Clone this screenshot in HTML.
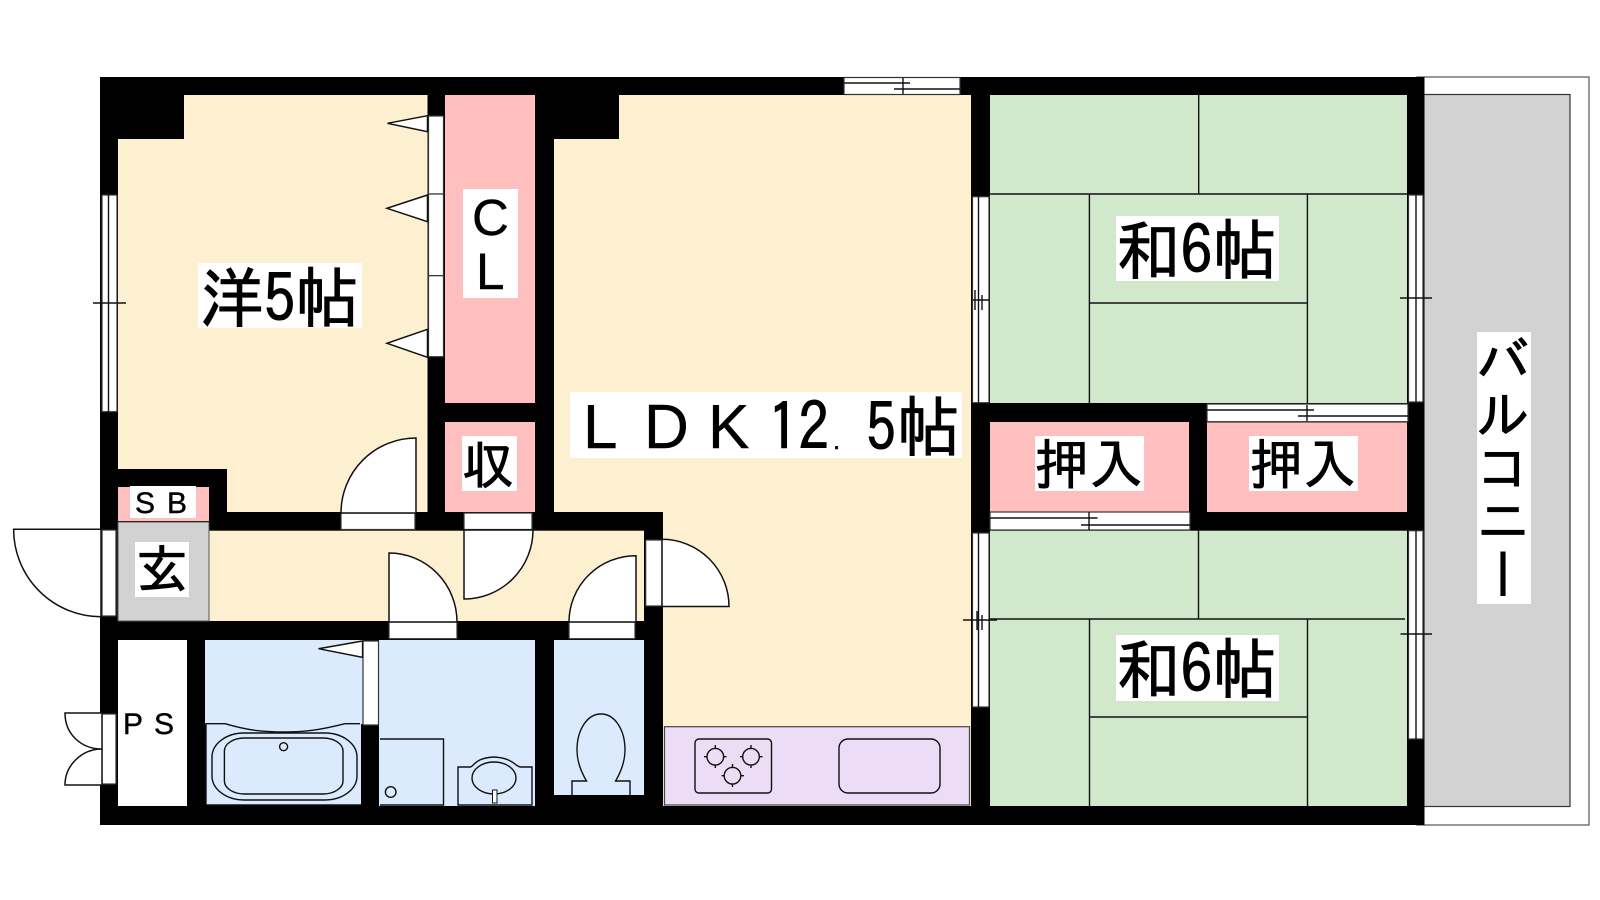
<!DOCTYPE html>
<html lang="ja"><head><meta charset="utf-8"><title>間取り図</title>
<style>
html,body{margin:0;padding:0;background:#fff}
svg{display:block}
.j{font-family:"IPAGothic","Noto Sans CJK JP",sans-serif;fill:#000;stroke:#000;stroke-width:.9}
.l{font-family:"Liberation Sans",sans-serif;fill:#000;stroke:#000;stroke-width:.4}
.ln{fill:none;stroke:#111;stroke-width:1.4}
.d{fill:#fff;stroke:#111;stroke-width:1.5}
.w{fill:#fff;stroke:#333;stroke-width:1.2}
</style></head><body>
<svg width="1600" height="900" viewBox="0 0 1600 900" xmlns="http://www.w3.org/2000/svg">
<rect width="1600" height="900" fill="#fff"/>
<!-- balcony -->
<rect x="1417" y="77" width="172" height="748" fill="#fff" stroke="#555" stroke-width="1.2"/>
<rect x="1420" y="94.500" width="150" height="712" fill="#d2d2d2" stroke="#333" stroke-width="1.2"/>
<!-- outer black -->
<rect x="100" y="77" width="1324.500" height="748" fill="#000"/>
<!-- rooms -->
<path d="M118 139H184V95H427.500V512H227V469H118Z" fill="#fdf0d0"/>
<rect x="445" y="95" width="90" height="308" fill="#ffbfbf"/>
<rect x="445" y="422" width="90" height="90" fill="#ffbfbf"/>
<rect x="118" y="487" width="91" height="34" fill="#ffbfbf"/>
<rect x="118" y="522" width="91" height="99" fill="#d2d2d2" stroke="#555" stroke-width="1"/>
<rect x="209.500" y="530.700" width="434.500" height="90.300" fill="#fdf0d0"/>
<path d="M554 139H619V95H971V806H663V512H554Z" fill="#fdf0d0"/>
<rect x="118" y="640" width="69" height="166" fill="#fff"/>
<rect x="205" y="640" width="158" height="84" fill="#dbebfd"/>
<rect x="206" y="724" width="155" height="81" fill="#dbebfd"/>
<rect x="379" y="640" width="156" height="166" fill="#dbebfd"/>
<rect x="554" y="640" width="90" height="155" fill="#dbebfd"/>
<rect x="990" y="95" width="417" height="308" fill="#d2e8cc"/>
<rect x="990" y="530.700" width="417" height="275.300" fill="#d2e8cc"/>
<rect x="990" y="422" width="199" height="89.500" fill="#ffbfbf"/>
<rect x="1207" y="422.500" width="200" height="89.500" fill="#ffbfbf"/>
<!-- kitchen -->
<rect x="664.500" y="726.700" width="305" height="78.300" fill="#ecdcf5" stroke="#444" stroke-width="1.2"/>
<rect x="695" y="739" width="76.500" height="54" rx="4" fill="none" stroke="#111" stroke-width="1.4"/>
<circle cx="715.300" cy="756.700" r="8.300" class="ln"/><path d="M715.300 745v23.500M704 756.700h22.500" class="ln" stroke-dasharray="3 17"/>
<circle cx="751" cy="756.700" r="8.300" class="ln"/><path d="M751 745v23.500M740 756.700h22.500" class="ln" stroke-dasharray="3 17"/>
<circle cx="732.500" cy="775.700" r="8.300" class="ln"/><path d="M732.500 764v23.500M721.500 775.700h22.500" class="ln" stroke-dasharray="3 17"/>
<rect x="839" y="739" width="101" height="54" rx="9" class="ln"/>
<!-- tatami lines -->
<path d="M1198.700 95V194M990 194H1407M1089.400 194V403M1307.400 194V403M1089.400 303H1307.400" class="ln"/>
<path d="M1198.500 530.700V619M990 619H1405M1089.500 619V806M1307.500 619V806M1089.500 717H1307.500" class="ln"/>
<!-- interior sliding door (CL) -->
<rect x="428.500" y="116" width="15" height="78" class="w"/><rect x="428.500" y="194" width="15" height="81.700" class="w"/><rect x="428.500" y="275.700" width="15" height="81" class="w"/>
<path d="M427.500 115.700L387.500 123.300L427.500 131.700Z" class="d"/>
<path d="M427.500 195L387 208.300L427.500 221.700Z" class="d"/>
<path d="M427.500 329.300L387 343.300L427.500 357.300Z" class="d"/>
<!-- windows -->
<rect x="102" y="195" width="15" height="216.700" class="w"/><path d="M108.500 195V411.700M93 303H126" class="ln"/>
<rect x="844" y="77.500" width="116" height="17" class="w"/><path d="M844 83H910M894 89H960M903 78V94" class="ln"/>
<rect x="972.500" y="196.700" width="16.500" height="206" class="w"/><path d="M978.500 196.700V403M972.500 300H989M975 290V310M982 295V310" class="ln"/>
<rect x="1408.500" y="195" width="14.500" height="207" class="w"/><path d="M1416 195V402M1400 298H1432" class="ln"/>
<rect x="1207" y="404" width="201" height="17.700" class="w"/><path d="M1207 410H1314M1298 416H1408M1307 405V421" class="ln"/>
<rect x="990" y="512" width="200" height="18" class="w"/><path d="M990 518H1097.500M1081 525H1190M1089 512V530" class="ln"/>
<rect x="972.500" y="533" width="16.500" height="174" class="w"/><path d="M978.500 533V707M963 620H997M977 611V630M982 615V630" class="ln"/>
<rect x="1408.500" y="530.700" width="14.500" height="208.300" class="w"/><path d="M1416 530.700V739M1400.500 634H1432" class="ln"/>
<!-- door openings & leaves -->
<rect x="341" y="513" width="74" height="16.500" class="w"/>
<path d="M416 438V513H341A75 75 0 0 1 416 438Z" class="d"/>
<rect x="464" y="513" width="68" height="16.500" class="w"/>
<path d="M464 530V599A69 69 0 0 0 533 530Z" class="d"/>
<rect x="102" y="530" width="14" height="86" class="w"/>
<path d="M101 529.300H13.600A87.500 87.500 0 0 0 101 616.700Z" class="d"/>
<rect x="102" y="714" width="14" height="70" class="w"/>
<path d="M102 713H65C65 735 82 749 102 749C82 749 65 765 65 785H102Z" class="d"/>
<rect x="389" y="622" width="68" height="16.700" class="w"/>
<path d="M389 622V553A68 69 0 0 1 457 622Z" class="d"/>
<rect x="569" y="622" width="66" height="16.700" class="w"/>
<path d="M636 622V555.700A67 66.300 0 0 0 569 622Z" class="d"/>
<rect x="645.700" y="540" width="16.300" height="66" class="w"/>
<path d="M662 606.500V539.300A67 67.200 0 0 1 729 606.500Z" class="d"/>
<!-- bath sliding door -->
<rect x="363" y="641" width="15.500" height="84" class="w"/>
<path d="M362.600 641L318.500 648.700L362.600 657.300Z" class="d"/>
<!-- bathtub -->
<path d="M206 805V723.700H225C250 731 265 732 285 732C305 732 320 730 345 723.700H360" class="ln"/>
<path d="M206 805H361" class="ln"/>
<rect x="212" y="733" width="145" height="67" rx="32" ry="24" class="ln"/>
<rect x="224.400" y="738" width="118.600" height="56" rx="20" ry="13" class="ln"/>
<ellipse cx="283.600" cy="746.700" rx="4" ry="4" class="ln"/>
<!-- washer -->
<path d="M380 739H443.500V805H380" class="ln"/>
<circle cx="390.700" cy="792" r="5.300" class="ln"/>
<!-- basin -->
<path d="M458 805V767H470C474 767 474 758 494 757C514 758 515 767 521 767H532V805Z" class="ln"/>
<ellipse cx="494" cy="778" rx="22" ry="16" class="ln"/>
<rect x="492.500" y="790" width="4.500" height="13" fill="#fff" stroke="#111" stroke-width="1"/>
<!-- toilet -->
<path d="M572 795V781H586.500C580 770 577 760 577 750C577 730 587 714 601 714C615 714 625 730 625 750C625 760 622 770 615.600 781H630V795" class="ln"/>
<!-- labels -->
<rect x="198" y="263" width="164" height="65" fill="#fff"/>
<text class="j" x="200" y="322" font-size="66" textLength="159" lengthAdjust="spacingAndGlyphs">洋5帖</text>
<rect x="463" y="189" width="55" height="109" fill="#fff"/>
<text class="l" x="472" y="235" font-size="51">C</text>
<text class="l" x="476" y="289" font-size="51">L</text>
<rect x="462" y="436" width="55" height="55" fill="#fff"/>
<text class="j" x="462" y="484" font-size="52">収</text>
<rect x="130" y="486" width="66" height="32" fill="#fff"/>
<text class="l" x="135" y="513" font-size="30">S</text>
<text class="l" x="167" y="513" font-size="30">B</text>
<rect x="135" y="542" width="54" height="55" fill="#fff"/>
<text class="j" x="136" y="588" font-size="52">玄</text>
<text class="l" x="123" y="734" font-size="30">P</text>
<text class="l" x="154" y="734" font-size="30">S</text>
<rect x="570" y="392" width="392" height="66" fill="#fff"/>
<text class="l" x="583" y="448" font-size="62">L</text>
<text class="l" x="644" y="448" font-size="62">D</text>
<text class="l" x="708" y="448" font-size="62">K</text>
<text class="j" x="768" y="451" font-size="66" textLength="61" lengthAdjust="spacingAndGlyphs">12</text>
<text class="l" x="833" y="449" font-size="26">.</text>
<text class="j" x="866" y="451" font-size="66" textLength="30" lengthAdjust="spacingAndGlyphs">5</text>
<text class="j" x="897" y="451" font-size="66" textLength="63" lengthAdjust="spacingAndGlyphs">帖</text>
<rect x="1116" y="216" width="163" height="65" fill="#fff"/>
<text class="j" x="1116" y="274" font-size="66" textLength="161" lengthAdjust="spacingAndGlyphs">和6帖</text>
<rect x="1116" y="635" width="163" height="66" fill="#fff"/>
<text class="j" x="1116" y="693" font-size="66" textLength="161" lengthAdjust="spacingAndGlyphs">和6帖</text>
<rect x="1035" y="436" width="109" height="55" fill="#fff"/>
<text class="j" x="1035" y="484" font-size="54" textLength="108" lengthAdjust="spacingAndGlyphs">押入</text>
<rect x="1249" y="436" width="109" height="55" fill="#fff"/>
<text class="j" x="1250" y="484" font-size="54" textLength="106" lengthAdjust="spacingAndGlyphs">押入</text>
<rect x="1477" y="332" width="54" height="272" fill="#fff"/>
<text class="j" x="1503" y="334" font-size="53" style="writing-mode:vertical-rl">バルコニー</text>
</svg>
</body></html>
